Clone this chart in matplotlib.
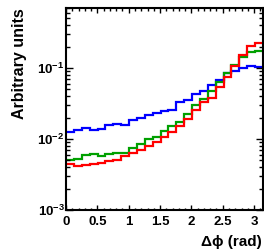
import numpy as np
import matplotlib
matplotlib.use("Agg")
import matplotlib.pyplot as plt
from matplotlib.ticker import MultipleLocator, LogLocator, FixedLocator, NullFormatter

plt.rcParams['font.family'] = ['Liberation Sans', 'DejaVu Sans']
plt.rcParams['font.weight'] = 'bold'
plt.rcParams['mathtext.fontset'] = 'custom'
plt.rcParams['mathtext.rm'] = 'Liberation Sans:bold'
plt.rcParams['mathtext.bf'] = 'Liberation Sans:bold'
plt.rcParams['mathtext.it'] = 'Liberation Sans:bold:italic'

n_bins = 25
blue = [0.01256, 0.01339, 0.01428, 0.01339, 0.01383, 0.01590, 0.01627, 0.01575,
        0.01870, 0.01957, 0.02199, 0.02324, 0.02480, 0.02603, 0.03353, 0.03543,
        0.04263, 0.04744, 0.05818, 0.06843, 0.08586, 0.09162, 0.1010, 0.1067, 0.1043]
green = [0.005061, 0.005178, 0.005893, 0.006087, 0.005817, 0.006087, 0.006412, 0.006249,
         0.007396, 0.008420, 0.01000, 0.01077, 0.01317, 0.01510, 0.01752, 0.02272,
         0.02982, 0.03625, 0.04775, 0.06412, 0.08420, 0.1103, 0.1443, 0.1696, 0.1752]
red = [0.004445, 0.004207, 0.004304, 0.004445, 0.004636, 0.004852, 0.005061, 0.005761,
       0.006351, 0.007000, 0.007842, 0.009075, 0.01050, 0.01235, 0.01500, 0.01913,
       0.02603, 0.03353, 0.03781, 0.05314, 0.07396, 0.1067, 0.1525, 0.2041, 0.2228]

x_ticks = [0, 0.5, 1, 1.5, 2, 2.5, 3]
x_ticklabels = ['0', '0.5', '1', '1.5', '2', '2.5', '3']
y_ticks = [1e-3, 1e-2, 1e-1]
y_ticklabels = [r'$10^{-3}$', r'$10^{-2}$', r'$10^{-1}$']

fig = plt.figure(figsize=(2.64, 2.49), dpi=100)
ax = fig.add_axes([66/264, 39/249, 197/264, 202/249])

edges = np.linspace(0, np.pi, n_bins + 1)
lw = 1.6
ax.stairs(blue, edges, color='#0000ff', lw=lw, baseline=None)
ax.stairs(green, edges, color='#00a000', lw=lw, baseline=None)
ax.stairs(red, edges, color='#ff0000', lw=lw, baseline=None)

ax.set_yscale('log')
ax.set_xlim(0, np.pi)
ax.set_ylim(1e-3, 0.7)

ax.xaxis.set_major_locator(FixedLocator(x_ticks))
ax.set_xticklabels(x_ticklabels)
ax.xaxis.set_minor_locator(MultipleLocator(0.1))
ax.yaxis.set_major_locator(FixedLocator(y_ticks))
ax.set_yticklabels(y_ticklabels)
ax.yaxis.set_minor_locator(LogLocator(base=10, subs=np.arange(2, 10)))
ax.yaxis.set_minor_formatter(NullFormatter())

for sp in ax.spines.values():
    sp.set_linewidth(1.5)

ax.tick_params(axis='both', which='both', direction='in', top=True, right=True, width=1.0)
ax.tick_params(axis='x', which='major', length=3.5, labelsize=9.5, pad=4.5)
ax.tick_params(axis='x', which='minor', length=1.8)
ax.tick_params(axis='y', which='major', length=5, labelsize=9.5, pad=1)
ax.tick_params(axis='y', which='minor', length=3)
for lab in ax.get_xticklabels():
    lab.set_fontweight('bold')

fig.text(262/264, 1 - 242/249, 'Δϕ (rad)', fontsize=11, fontweight='bold',
         ha='right', va='center', family=['Liberation Sans', 'DejaVu Sans'])
fig.text(20/264, 1 - 8/249, 'Arbitrary units', fontsize=11.5, fontweight='bold',
         ha='center', va='top', rotation=90)

fig.savefig('out.png', dpi=100)
